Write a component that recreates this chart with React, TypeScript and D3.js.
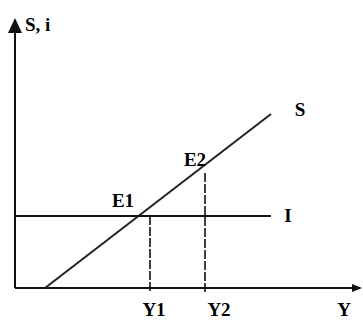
import React from "react";
import * as d3 from "d3";

// Data (in chart units)
const xDomain = [0, 345];
const yDomain = [0, 270];
const saving = [
  { x: 30, y: 0 },
  { x: 256, y: 174 },
];
const investment = [
  { x: 0, y: 72 },
  { x: 256, y: 72 },
];
const dropLines = [
  { label: "Y1", x: 135, top: 72 },
  { label: "Y2", x: 190, top: 115 },
];
const points = [
  { label: "E1", x: 108, y: 72 },
  { label: "E2", x: 180, y: 124 },
];

const W = 363;
const H = 322;

export default function App() {
  const x = d3.scaleLinear().domain(xDomain).range([15, 360]);
  const y = d3.scaleLinear().domain(yDomain).range([288, 18]);
  const line = d3
    .line<{ x: number; y: number }>()
    .x((d) => x(d.x))
    .y((d) => y(d.y));
  const font = { fontFamily: "Liberation Serif, serif", fontWeight: 700, fontSize: 19 };
  return (
    <svg width={W} height={H} style={{ position: "absolute", left: 0, top: 0, background: "#fff" }}>
      {/* axes */}
      <line x1={x(0)} y1={y(0)} x2={x(0)} y2={y(270) + 8} stroke="#111" strokeWidth={2} />
      <path d={`M${x(0)},${y(270)} L${x(0) - 7},${y(270) + 15} L${x(0) + 7},${y(270) + 15} Z`} fill="#111" />
      <line x1={x(0)} y1={y(0)} x2={x(345) - 2} y2={y(0)} stroke="#111" strokeWidth={2} />
      <path d={`M${x(345) + 2},${y(0)} L${x(345) - 8},${y(0) - 4} L${x(345) - 8},${y(0) + 4} Z`} fill="#111" />
      {/* S line */}
      <path d={line(saving) || ""} fill="none" stroke="#222" strokeWidth={2} />
      {/* I line */}
      <path d={line(investment) || ""} fill="none" stroke="#111" strokeWidth={2} />
      {/* drop lines */}
      {dropLines.map((d) => (
        <g key={d.label}>
          <line
            x1={x(d.x)}
            x2={x(d.x)}
            y1={y(d.top)}
            y2={y(0) + 4}
            stroke="#111"
            strokeWidth={1.6}
            strokeDasharray="9,2"
          />
          <text x={x(d.x) + (d.label === "Y1" ? 4 : 14)} y={316} textAnchor="middle" {...font}>
            {d.label}
          </text>
        </g>
      ))}
      {points.map((p) => (
        <text key={p.label} x={x(p.x)} y={y(p.y) - (p.label === "E1" ? 9 : -2)} textAnchor="middle" {...font}>
          {p.label}
        </text>
      ))}
      <text x={300} y={116} textAnchor="middle" {...font}>S</text>
      <text x={288} y={222} textAnchor="middle" {...font}>I</text>
      <text x={344} y={316} textAnchor="middle" {...font}>Y</text>
      <text x={25} y={31} {...font}>S, i</text>
    </svg>
  );
}
